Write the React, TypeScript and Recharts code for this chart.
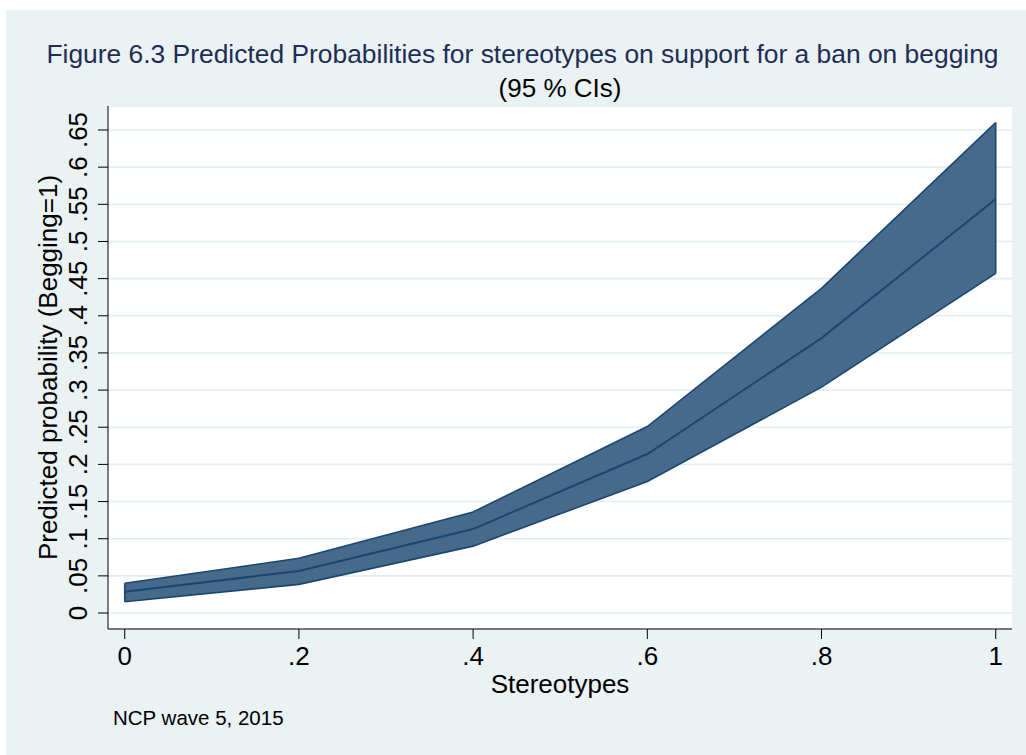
import React from "react";
import {
  Area,
  CartesianGrid,
  ComposedChart,
  Label,
  Line,
  ReferenceLine,
  XAxis,
  YAxis,
} from "recharts";

// predicted probabilities with 95% confidence bounds
const stereotypes = [0, 0.2, 0.4, 0.6, 0.8, 1];
const predicted = [0.0287, 0.0565, 0.113, 0.214, 0.37, 0.557];
const lowerCI = [0.0152, 0.0386, 0.09, 0.177, 0.304, 0.457];
const upperCI = [0.04, 0.0736, 0.136, 0.251, 0.437, 0.66];

const xTicks = [0, 0.2, 0.4, 0.6, 0.8, 1];
const yTicks = [0, 0.05, 0.1, 0.15, 0.2, 0.25, 0.3, 0.35, 0.4, 0.45, 0.5, 0.55, 0.6, 0.65];

const rows = stereotypes.map((x, i) => ({
  x,
  mid: predicted[i],
  lo: lowerCI[i],
  hi: upperCI[i],
  band: [lowerCI[i], upperCI[i]],
}));

const FONT = "'Liberation Sans', Arial, Helvetica, sans-serif";
const FS = 26;
const BG = "#eaf2f3";
const NAVY = "#1a476f";
const FILL = "#476a8b";

// Stata-style labels: 0, .2, .05 ...
const fmt = (v: number) => {
  if (v === 0) return "0";
  if (v === 1) return "1";
  const s = String(Math.round(v * 100) / 100);
  return s.startsWith("0") ? s.slice(1) : s;
};

const YTick = (props: any) => {
  const { x, y, payload } = props;
  const bx = x - 9;
  return (
    <text
      x={bx}
      y={y}
      transform={`rotate(-90 ${bx} ${y})`}
      textAnchor="middle"
      fontSize={FS}
      fontFamily={FONT}
      fill="#000"
    >
      {fmt(payload.value)}
    </text>
  );
};

export default function App() {
  const first = rows[0];
  const last = rows[rows.length - 1];
  return (
    <div
      style={{
        position: "absolute",
        left: 6,
        top: 10,
        width: 1020,
        height: 745,
        background: BG,
        fontFamily: FONT,
      }}
    >
      <div
        style={{
          position: "absolute",
          left: 516.5,
          top: 30.8,
          transform: "translateX(-50%)",
          whiteSpace: "nowrap",
          fontSize: 26.4,
          lineHeight: 1,
          color: "#1f2d56",
        }}
      >
        Figure 6.3 Predicted Probabilities for stereotypes on support for a ban on begging
      </div>
      <div
        style={{
          position: "absolute",
          left: 554,
          top: 65,
          transform: "translateX(-50%)",
          whiteSpace: "nowrap",
          fontSize: FS,
          lineHeight: 1,
          color: "#000",
        }}
      >
        (95 % CIs)
      </div>
      <div
        style={{
          position: "absolute",
          left: 107,
          top: 697.6,
          whiteSpace: "nowrap",
          fontSize: 20.5,
          lineHeight: 1,
          color: "#000",
        }}
      >
        NCP wave 5, 2015
      </div>
      <ComposedChart
        width={1020}
        height={745}
        data={rows}
        margin={{ top: 96, right: 14, left: 42, bottom: 66 }}
      >
        <CartesianGrid
          vertical={false}
          stroke="#e3edef"
          strokeWidth={1.6}
          fill="#ffffff"
        />
        <XAxis
          dataKey="x"
          type="number"
          domain={[-0.0192, 1.0187]}
          ticks={xTicks}
          tickFormatter={fmt}
          allowDataOverflow
          height={60}
          tickSize={10}
          tickMargin={8}
          axisLine={{ stroke: "#000", strokeWidth: 1 }}
          tickLine={{ stroke: "#000", strokeWidth: 1 }}
          tick={{ fontSize: FS, fontFamily: FONT, fill: "#000" }}
        >
          <Label
            content={({ viewBox }: any) => (
              <text
                x={viewBox.x + viewBox.width / 2}
                y={viewBox.y + 64}
                textAnchor="middle"
                fontSize={FS}
                fontFamily={FONT}
                fill="#000"
              >
                Stereotypes
              </text>
            )}
          />
        </XAxis>
        <YAxis
          type="number"
          domain={[-0.0215, 0.6823]}
          ticks={yTicks}
          allowDataOverflow
          width={60}
          tickSize={10}
          axisLine={{ stroke: "#000", strokeWidth: 1 }}
          tickLine={{ stroke: "#000", strokeWidth: 1 }}
          tick={<YTick />}
        >
          <Label
            content={({ viewBox }: any) => {
              const bx = viewBox.x + 9;
              const cy = viewBox.y + viewBox.height / 2;
              return (
                <text
                  x={bx}
                  y={cy}
                  transform={`rotate(-90 ${bx} ${cy})`}
                  textAnchor="middle"
                  fontSize={FS}
                  fontFamily={FONT}
                  fill="#000"
                >
                  Predicted probability (Begging=1)
                </text>
              );
            }}
          />
        </YAxis>
        <Area
          dataKey="band"
          type="linear"
          fill={FILL}
          fillOpacity={1}
          stroke="none"
          isAnimationActive={false}
        />
        <Line dataKey="lo" type="linear" stroke={NAVY} strokeWidth={1.6} dot={false} isAnimationActive={false} />
        <Line dataKey="hi" type="linear" stroke={NAVY} strokeWidth={1.6} dot={false} isAnimationActive={false} />
        <ReferenceLine
          segment={[{ x: first.x, y: first.lo }, { x: first.x, y: first.hi }]}
          stroke={NAVY}
          strokeWidth={1.6}
        />
        <ReferenceLine
          segment={[{ x: last.x, y: last.lo }, { x: last.x, y: last.hi }]}
          stroke={NAVY}
          strokeWidth={1.6}
        />
        <Line dataKey="mid" type="linear" stroke={NAVY} strokeWidth={2} dot={false} isAnimationActive={false} />
      </ComposedChart>
    </div>
  );
}
